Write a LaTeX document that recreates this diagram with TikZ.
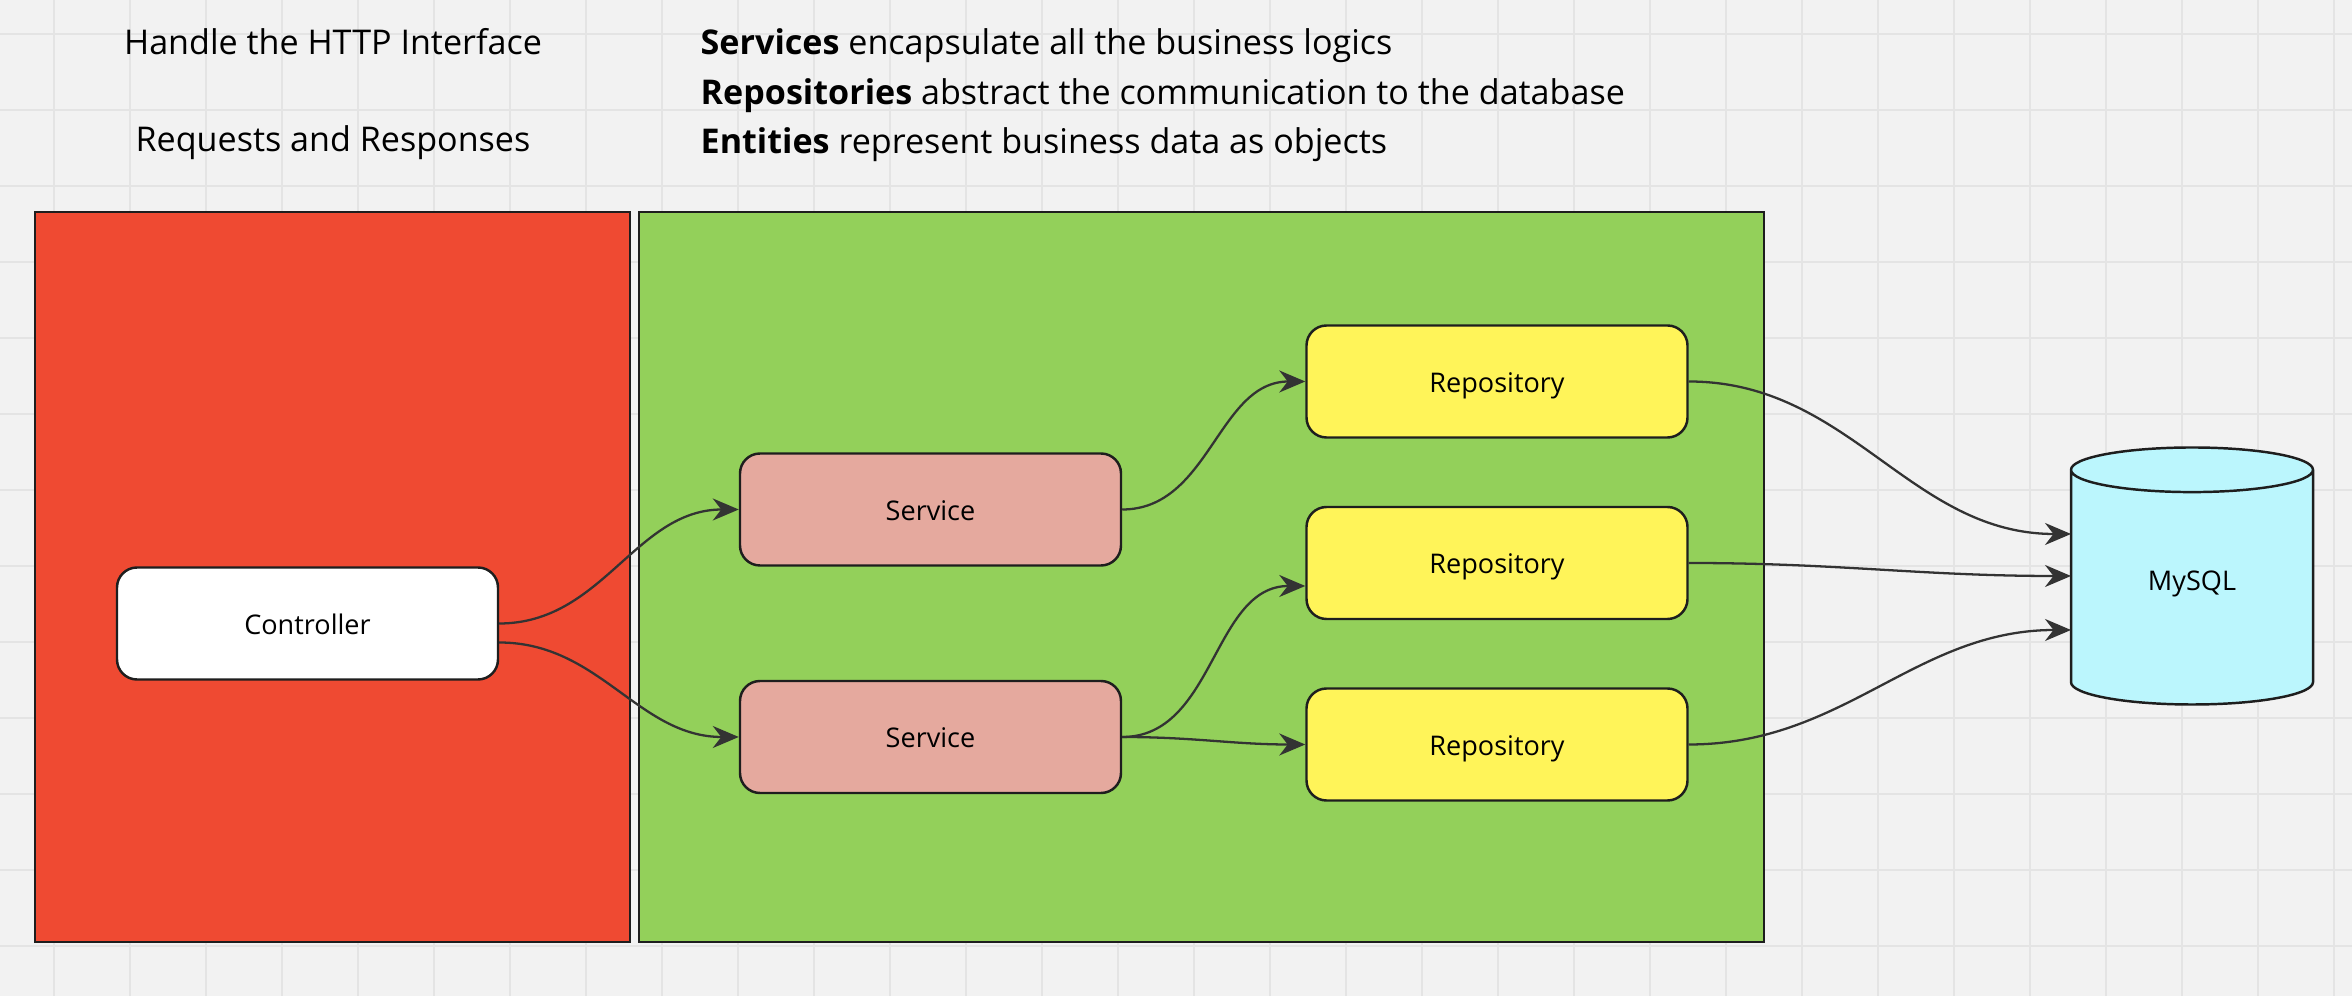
\documentclass[tikz,border=0pt]{standalone}
\usepackage{fontspec}
\setmainfont{Open Sans}
\usepackage{tikz}
\usetikzlibrary{
	shapes,
	shapes.geometric,
	arrows.meta,
	calc}

\definecolor{canvas}{HTML}{F2F2F2}
\definecolor{gridgray}{HTML}{E4E4E4}
\definecolor{layerred}{HTML}{EF4A32}
\definecolor{layergreen}{HTML}{93D05A}
\definecolor{servicepink}{HTML}{E5A99E}
\definecolor{repoyellow}{HTML}{FFF459}
\definecolor{dbcyan}{HTML}{BBF6FD}
\definecolor{edge}{HTML}{1E1E1E}
\definecolor{wire}{HTML}{333333}

\begin{document}
\begin{tikzpicture}[
    >={Stealth[length=2.6mm,width=2.2mm]},
    layer/.style={draw=edge, line width=0.8pt, minimum width=#1, minimum height=7.30cm},
    box/.style={draw=edge, line width=0.7pt, rounded corners=2mm, minimum width=3.81cm,
      minimum height=1.12cm, text height=0.62em, text depth=0pt,
      font=\fontsize{7.7}{9}\selectfont},
    note/.style={font=\fontsize{9.7}{12}\selectfont, inner sep=0pt},
    link/.style={draw=wire, line width=0.65pt},
    gridline/.style={gridgray, line width=0.6pt}]
      \fill [canvas] (0,0) rectangle (23.52,9.96);
      \useasboundingbox (0,0) rectangle (23.52,9.96);
      \foreach \x in {0,...,30} {
        \draw [gridline] ({0.54+0.76*\x},0) -- ({0.54+0.76*\x},9.96);}
      \foreach \y in {0,...,12} {
        \draw [gridline] (0,{9.62-0.76*\y}) -- (23.52,{9.62-0.76*\y});}

      \node [note, anchor=base] (HTTP) at (3.33,9.41) {Handle the HTTP Interface};
      \node [note, anchor=base] (RR) at (3.33,8.44) {Requests and Responses};
      \node [note, anchor=base west] (ServNote) at (7.00,9.41) {\textbf{Services} encapsulate all the business logics};
      \node [note, anchor=base west] (RepoNote) at (7.00,8.91) {\textbf{Repositories} abstract the communication to the database};
      \node [note, anchor=base west] (EntNote) at (7.00,8.42) {\textbf{Entities} represent business data as objects};

      \node [layer=5.95cm, fill=layerred] (Web) at (3.325,4.19) {};
      \node [layer=11.25cm, fill=layergreen] (Logic) at (12.015,4.19) {};

      \node [box, fill=white] (Ctl) at (3.075,3.725) {Controller};
      \node [box, fill=servicepink] (Serv1) at (9.305,4.865) {Service};
      \node [box, fill=servicepink] (Serv2) at (9.305,2.59) {Service};

      \node [box, fill=repoyellow] (Repo1) at (14.97,6.145) {Repository};
      \node [box, fill=repoyellow] (Repo2) at (14.97,4.33) {Repository};
      \node [box, fill=repoyellow] (Repo3) at (14.97,2.515) {Repository};

      \node [cylinder, shape border rotate=90, aspect=0.4, draw=edge, line width=0.7pt,
        fill=dbcyan, minimum width=2.42cm, minimum height=2.57cm, anchor=shape center,
        text height=0.72em, text depth=0.29cm,
        font=\fontsize{7.7}{9}\selectfont] (DB) at (21.92,4.20) {MySQL};

      \draw [link, ->] (Ctl.east)                  to[out=0,in=180] (Serv1.west);
      \draw [link, ->] ([yshift=-1.9mm]Ctl.east)   to[out=0,in=180] (Serv2.west);
      \draw [link, ->] (Serv1.east)                to[out=0,in=180] (Repo1.west);
      \draw [link, ->] (Serv2.east)                to[out=0,in=180] ([yshift=-2.3mm]Repo2.west);
      \draw [link, ->] (Serv2.east)                to[out=0,in=180] (Repo3.west);
      \draw [link, ->] (Repo1.east)                to[out=0,in=180] ([xshift=-12.1mm,yshift=4.2mm]DB.shape center);
      \draw [link, ->] (Repo2.east)                to[out=0,in=180] ([xshift=-12.1mm]DB.shape center);
      \draw [link, ->] (Repo3.east)                to[out=0,in=180] ([xshift=-12.1mm,yshift=-5.4mm]DB.shape center);
  \end{tikzpicture}
\end{document}
